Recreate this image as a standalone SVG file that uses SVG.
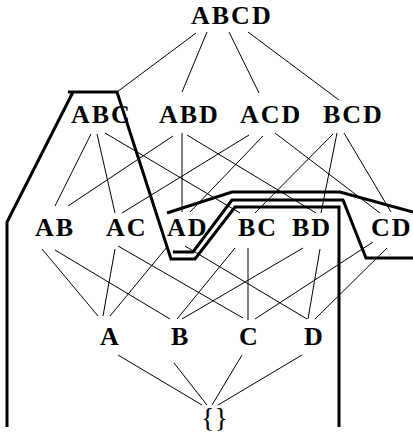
<svg xmlns="http://www.w3.org/2000/svg" width="413" height="440" viewBox="0 0 413 440">
<style>
.lbl{font-family:"Liberation Serif","Times New Roman",serif;font-weight:bold;font-size:26px;letter-spacing:2px;fill:#000}
.brace{font-family:"Liberation Serif","Times New Roman",serif;font-size:28px;fill:#000}
.e{stroke:#000;stroke-width:1;fill:none}
.cut{stroke:#000;stroke-width:3;fill:none;stroke-linejoin:miter}
</style>
<rect width="413" height="440" fill="#fff"/>
<g id="connectors">
<line class="e" x1="196" y1="33" x2="117" y2="92"/>
<line class="e" x1="207" y1="32" x2="182" y2="92"/>
<line class="e" x1="229" y1="32" x2="259" y2="93"/>
<line class="e" x1="248" y1="32" x2="339" y2="100"/>
<line class="e" x1="91" y1="134" x2="55" y2="206"/>
<line class="e" x1="97" y1="134" x2="115" y2="213"/>
<line class="e" x1="105" y1="133" x2="240" y2="213"/>
<line class="e" x1="173" y1="136" x2="68" y2="206"/>
<line class="e" x1="182" y1="133" x2="182" y2="212"/>
<line class="e" x1="187" y1="135" x2="316" y2="213"/>
<line class="e" x1="249" y1="135" x2="122" y2="213"/>
<line class="e" x1="263" y1="136" x2="190" y2="212"/>
<line class="e" x1="275" y1="133" x2="380" y2="213"/>
<line class="e" x1="333" y1="134" x2="255" y2="213"/>
<line class="e" x1="337" y1="133" x2="321" y2="213"/>
<line class="e" x1="344" y1="133" x2="391" y2="212"/>
<line class="e" x1="42" y1="249" x2="98" y2="316"/>
<line class="e" x1="55" y1="250" x2="170" y2="319"/>
<line class="e" x1="115" y1="249" x2="103" y2="316"/>
<line class="e" x1="118" y1="246" x2="243" y2="318"/>
<line class="e" x1="167" y1="247" x2="110" y2="316"/>
<line class="e" x1="185" y1="246" x2="307" y2="319"/>
<line class="e" x1="235" y1="248" x2="177" y2="319"/>
<line class="e" x1="248" y1="248" x2="248" y2="320"/>
<line class="e" x1="303" y1="248" x2="182" y2="319"/>
<line class="e" x1="320" y1="249" x2="308" y2="319"/>
<line class="e" x1="373" y1="242" x2="255" y2="319"/>
<line class="e" x1="387" y1="248" x2="315" y2="319"/>
<line class="e" x1="118" y1="355" x2="202" y2="405"/>
<line class="e" x1="174" y1="363" x2="207" y2="405"/>
<line class="e" x1="242" y1="355" x2="212" y2="405"/>
<line class="e" x1="302" y1="355" x2="218" y2="405"/>
</g>
<g id="cuts">
<path class="cut" d="M7,427 L7,222 L73,92"/>
<path class="cut" d="M68,92 L117,92 L171,259 L195,259 L235,207 L339,207 L339,427"/>
<path class="cut" d="M173,252 L193,252 L232,200 L343,200 L366,258 L413,258"/>
<path class="cut" d="M167,213 L232,192 L340,192 L413,212"/>
</g>
<g id="n-ABCD"><text class="lbl" x="191" y="23.5">ABCD</text></g>
<g id="n-ABC"><text class="lbl" x="71" y="123">ABC</text></g>
<g id="n-ABD"><text class="lbl" x="159" y="123">ABD</text></g>
<g id="n-ACD"><text class="lbl" x="240" y="123">ACD</text></g>
<g id="n-BCD"><text class="lbl" x="323" y="123">BCD</text></g>
<g id="n-AB"><text class="lbl" x="35" y="236">AB</text></g>
<g id="n-AC"><text class="lbl" x="106" y="236">AC</text></g>
<g id="n-AD"><text class="lbl" x="167" y="236">AD</text></g>
<g id="n-BC"><text class="lbl" x="238" y="236">BC</text></g>
<g id="n-BD"><text class="lbl" x="292" y="236">BD</text></g>
<g id="n-CD"><text class="lbl" x="371" y="236">CD</text></g>
<g id="n-A"><text class="lbl" x="100" y="345">A</text></g>
<g id="n-B"><text class="lbl" x="171" y="345">B</text></g>
<g id="n-C"><text class="lbl" x="239" y="345">C</text></g>
<g id="n-D"><text class="lbl" x="304" y="345">D</text></g>
<g id="n-empty"><text class="brace" x="201" y="427">{}</text></g>
</svg>
